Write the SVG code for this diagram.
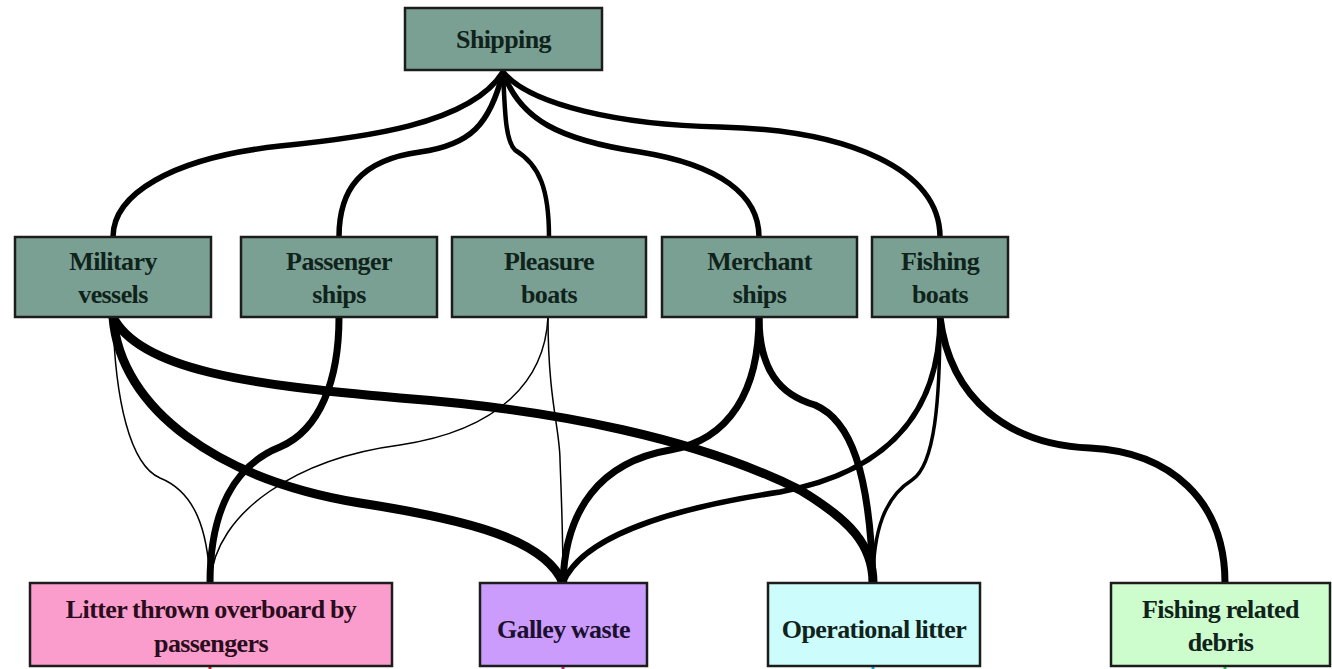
<svg xmlns="http://www.w3.org/2000/svg" width="1332" height="669" viewBox="0 0 1332 669">
  <style>
    .box { stroke: #1c1c1c; stroke-width: 2.5; }
    .src { fill: #7aa094; }
    .lbl { font-family: "Liberation Serif", "DejaVu Serif", serif; font-weight: bold; font-size: 26px; fill: #10231b; text-anchor: middle; letter-spacing: -0.6px; word-spacing: -0.5px; }
    .lbl2 { fill: #2a0d1c; }
    .edge { fill: none; stroke: #000; stroke-linecap: round; stroke-linejoin: round; }
    .w1 { stroke-width: 1.5; }
    .w3 { stroke-width: 3.5; }
    .w4 { stroke-width: 4.5; }
    .w5 { stroke-width: 5.5; }
    .w7 { stroke-width: 7; }
    .w9 { stroke-width: 9; }
    .stub { stroke-width: 3; }
  </style>
  <rect width="1332" height="669" fill="#ffffff"/>

  <!-- connectors -->
  <g id="connectors">
    <!-- Shipping to vessel types -->
    <path class="edge w5" d="M503,72 C470,125 360,138 280,146 C170,158 113,195 113,237"/>
    <path class="edge w5" d="M503,72 C490,125 470,145 420,152 C360,160 339,190 339,237"/>
    <path class="edge w4" d="M503,72 C505,110 505,140 515,150 C540,165 549,190 549,237"/>
    <path class="edge w5" d="M503,72 C520,120 560,140 640,152 C720,165 759,195 759,237"/>
    <path class="edge w5" d="M503,72 C530,105 620,125 720,127 C850,130 940,170 940,237"/>

    <!-- Military vessels -->
    <path class="edge w9" d="M113,317 C140,370 250,385 400,398 C560,410 700,440 800,490 C850,520 873,545 873,583"/>
    <path class="edge w9" d="M113,317 C120,410 220,480 360,503 C470,520 545,540 563,583"/>
    <path class="edge w1" d="M113,317 C115,400 130,465 160,478 C195,492 208,530 210,583"/>

    <!-- Passenger ships -->
    <path class="edge w7" d="M339,317 C339,380 320,430 280,447 C235,465 210,510 210,583"/>

    <!-- Pleasure boats -->
    <path class="edge w1" d="M548,317 C545,380 500,430 400,445 C300,458 215,510 210,583"/>
    <path class="edge w1" d="M548,317 C548,400 560,430 560,460 C562,510 563,550 563,583"/>

    <!-- Merchant ships -->
    <path class="edge w7" d="M759,317 C759,390 730,440 670,450 C600,462 565,510 563,583"/>
    <path class="edge w7" d="M759,317 C759,370 780,395 815,405 C850,420 870,470 873,583"/>

    <!-- Fishing boats -->
    <path class="edge w5" d="M940,317 C940,400 900,470 780,492 C660,510 580,540 563,583"/>
    <path class="edge w3" d="M940,317 C940,400 935,465 912,480 C885,497 873,530 873,583"/>
    <path class="edge w7" d="M940,317 C950,400 1010,445 1090,448 C1170,452 1225,500 1225,583"/>

    <!-- outgoing stubs below the litter categories -->
    <line class="stub" x1="210" y1="664" x2="210" y2="669" stroke="#e0102a"/>
    <line class="stub" x1="563" y1="664" x2="563" y2="669" stroke="#d0208a"/>
    <line class="stub" x1="873" y1="664" x2="873" y2="669" stroke="#10a8d8"/>
    <line class="stub" x1="1225" y1="664" x2="1225" y2="669" stroke="#20c040"/>
  </g>

  <!-- source -->
  <g id="shipping">
    <rect class="box src" x="405" y="8" width="197" height="62"/>
    <text class="lbl" x="503.5" y="48">Shipping</text>
  </g>

  <!-- vessel types -->
  <g id="military-vessels">
    <rect class="box src" x="15" y="237" width="196" height="80"/>
    <text class="lbl" x="113" y="270">Military</text>
    <text class="lbl" x="113" y="303">vessels</text>
  </g>
  <g id="passenger-ships">
    <rect class="box src" x="241" y="237" width="196" height="80"/>
    <text class="lbl" x="339" y="270">Passenger</text>
    <text class="lbl" x="339" y="303">ships</text>
  </g>
  <g id="pleasure-boats">
    <rect class="box src" x="452" y="237" width="194" height="80"/>
    <text class="lbl" x="549" y="270">Pleasure</text>
    <text class="lbl" x="549" y="303">boats</text>
  </g>
  <g id="merchant-ships">
    <rect class="box src" x="662" y="237" width="195" height="80"/>
    <text class="lbl" x="759.5" y="270">Merchant</text>
    <text class="lbl" x="759.5" y="303">ships</text>
  </g>
  <g id="fishing-boats">
    <rect class="box src" x="872" y="237" width="136" height="80"/>
    <text class="lbl" x="940" y="270">Fishing</text>
    <text class="lbl" x="940" y="303">boats</text>
  </g>

  <!-- litter categories -->
  <g id="litter-overboard">
    <rect class="box" x="30" y="583" width="362" height="83" fill="#fb9dcc"/>
    <text class="lbl lbl2" x="211" y="618">Litter thrown overboard by</text>
    <text class="lbl lbl2" x="211" y="652">passengers</text>
  </g>
  <g id="galley-waste">
    <rect class="box" x="480" y="583" width="167" height="83" fill="#cc9cfc"/>
    <text class="lbl" x="563.5" y="638" style="fill:#1a1030">Galley waste</text>
  </g>
  <g id="operational-litter">
    <rect class="box" x="768" y="583" width="212" height="83" fill="#cdfcfc"/>
    <text class="lbl" x="874" y="638">Operational litter</text>
  </g>
  <g id="fishing-debris">
    <rect class="box" x="1111" y="583" width="219" height="83" fill="#cdfccd"/>
    <text class="lbl" x="1220.5" y="618">Fishing related</text>
    <text class="lbl" x="1220.5" y="651">debris</text>
  </g>
</svg>
